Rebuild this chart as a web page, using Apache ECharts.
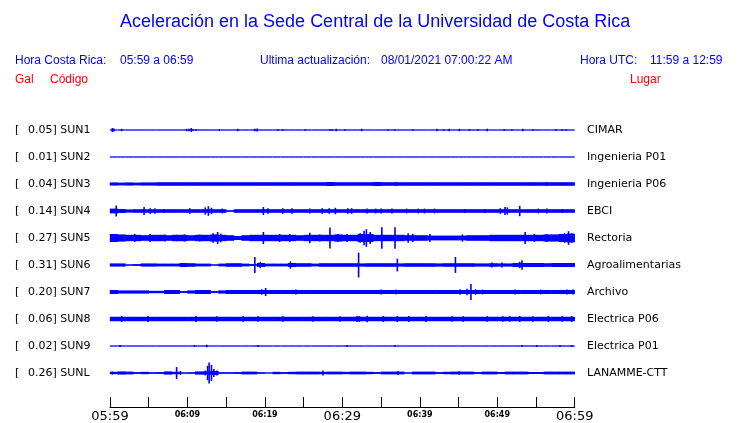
<!DOCTYPE html>
<html><head><meta charset="utf-8">
<script src="https://cdn.jsdelivr.net/npm/echarts/dist/echarts.min.js"></script>
<style>html,body{margin:0;padding:0;background:#fff}#c{width:740px;height:423px}</style>
</head><body><div id="c"></div>
<script>
// ---------------- DATA ----------------
const titleText = 'Aceleración en la Sede Central de la Universidad de Costa Rica';
const codes  = ['SUN1','SUN2','SUN3','SUN4','SUN5','SUN6','SUN7','SUN8','SUN9','SUNL'];
const places = ['CIMAR','Ingenieria P01','Ingenieria P06','EBCI','Rectoria','Agroalimentarias','Archivo','Electrica P06','Electrica P01','LANAMME-CTT'];
const peaks  = [0.05, 0.01, 0.04, 0.14, 0.27, 0.31, 0.20, 0.06, 0.02, 0.26];
// x axis: minutes after 05:59, one tick every 5 minutes
const tickLabels = ['05:59','','06:09','','06:19','','06:29','','06:39','','06:49','','06:59'];
const bigTicks = ['05:59','06:29','06:59'];

// envelope (Gal) of background noise, one value per minute (60 minutes)
const env_SUN1 = [0,0,0,0,0,0,0,0,0,0, 0,0,0,0,0,0,0,0,0,0, 0,0,0,0,0,0,0,0,0,0, 0,0,0,0,0,0,0,0,0,0, 0,0,0,0,0,0,0,0,0,0, 0,0,0,0,0,0,0,0,0,0];
const env_SUN2 = [0,0,0,0,0,0,0,0,0,0, 0,0,0,0,0,0,0,0,0,0, 0,0,0,0,0,0,0,0,0,0, 0,0,0,0,0,0,0,0,0,0, 0,0,0,0,0,0,0,0,0,0, 0,0,0,0,0,0,0,0,0,0];
const env_SUN3 = [.04,.035,.04,.035,.04,.04,.045,.045,.045,.045, .045,.045,.045,.045,.045,.045,.045,.045,.045,.045, .045,.045,.045,.045,.045,.045,.045,.045,.05,.045, .045,.045,.045,.045,.05,.045,.045,.045,.045,.045, .045,.045,.045,.045,.045,.045,.045,.045,.045,.045, .045,.045,.045,.045,.045,.045,.045,.045,.045,.045];
const env_SUN4 = [.06,.05,.04,.045,.045,.045,.045,.045,.045,.045, .045,.045,.045,.045,.045,.015,.045,.045,.045,.045, .045,.045,.045,.045,.045,.045,.045,.045,.045,.045, .045,.045,.045,.045,.045,.045,.045,.045,.045,.045, .045,.045,.045,.045,.045,.045,.045,.045,.045,.045, .045,.045,.045,.045,.045,.045,.045,.045,.045,.045];
const env_SUN5 = [.1,.09,.08,.08,.07,.08,.08,.07,.08,.08, .07,.08,.08,.09,.08,.07,.05,.07,.08,.08, .08,.08,.08,.08,.07,.08,.08,.08,.08,.09, .08,.08,.1,.1,.08,.08,.08,.08,.07,.07, .07,.06,.06,.06,.06,.06,.07,.07,.07,.08, .08,.08,.08,.08,.08,.08,.09,.09,.1,.11];
const env_SUN6 = [.04,.04,.01,.02,.04,.04,.035,.035,.035,.05, .045,.035,.035,.01,.035,.045,.045,.035,.02,.05, .035,.035,.035,.05,.045,.045,.035,.045,.045,.045, .045,.045,.04,.045,.045,.045,.045,.04,.045,.045, .045,.045,.04,.045,.045,.045,.045,.04,.04,.045, .04,.04,.05,.05,.05,.05,.045,.05,.05,.05];
const env_SUN7 = [.05,.04,.04,.04,.04,.03,.03,.05,.05,.02, .04,.05,.05,.02,.04,.05,.05,.05,.05,.05, .05,.05,.05,.05,.05,.05,.05,.05,.05,.05, .05,.05,.05,.05,.05,.05,.05,.05,.05,.05, .05,.05,.05,.05,.05,.05,.05,.05,.05,.05, .05,.05,.05,.05,.05,.05,.05,.05,.05,.05];
const env_SUN8 = [.056,.056,.056,.056,.056,.056,.056,.056,.056,.056, .056,.056,.056,.056,.056,.056,.056,.056,.056,.056, .056,.056,.056,.056,.056,.056,.056,.056,.056,.056, .056,.056,.056,.056,.056,.056,.056,.056,.056,.056, .056,.056,.056,.056,.056,.056,.056,.056,.056,.056, .056,.056,.056,.056,.056,.056,.056,.056,.056,.056];
const env_SUN9 = [0,0,0,0,0,0,0,0,0,0, 0,0,0,0,0,0,0,0,0,0, 0,0,0,0,0,0,0,0,0,0, 0,0,0,0,0,0,0,0,0,0, 0,0,0,0,0,0,0,0,0,0, 0,0,0,0,0,0,0,0,0,0];
const env_SUNL = [.03,.04,.035,.02,.03,.015,.02,.04,.03,.01, .015,.04,.04,.05,.015,.015,.02,.035,.035,.015, .005,.03,.02,.03,.035,.035,.035,.03,.035,.035, .03,.035,.035,.03,.02,.035,.035,.035,.01,.035, .035,.035,.02,.03,.035,.035,.035,.02,.035,.035, .025,.035,.035,.035,.025,.025,.035,.035,.035,.035];

// spikes: [minute, peak amplitude in Gal]
const spk_SUN1 = [[0.3,.05],[0.5,.04],[1.5,.03],[9.9,.03],[10.2,.03],[10.5,.05],[10.7,.02],[11.1,.02],[14.1,.02],[16.5,.03],[18.7,.03],[19.0,.04],[21.7,.02],[22.3,.02],[25.2,.02],[28.4,.02],[28.7,.02],[29.2,.03],[30.3,.02],[32.5,.03],[35.9,.02],[36.8,.02],[39.1,.02],[42.2,.03],[43.1,.02],[43.8,.03],[45.1,.03],[46.4,.02],[47.5,.02],[48.7,.03],[50.9,.02],[51.9,.02],[53.3,.03],[54.6,.02],[57.6,.02],[58.4,.02],[58.9,.02]];
const spk_SUN2 = [];
const spk_SUN3 = [[28.4,.05],[34.1,.05],[36.9,.05],[56.4,.05]];
const spk_SUN4 = [[0.8,.14],[4.4,.10],[5.2,.07],[5.8,.07],[7.0,.05],[10.3,.07],[12.3,.09],[12.7,.12],[13.1,.08],[14.5,.06],[19.8,.10],[20.4,.07],[22.3,.07],[23.5,.07],[25.8,.06],[27.4,.07],[28.3,.07],[29.1,.08],[30.7,.07],[31.2,.07],[33.2,.06],[34.3,.06],[35.0,.06],[36.4,.06],[38.3,.06],[39.8,.06],[40.6,.06],[41.9,.06],[45.8,.05],[48.4,.05],[50.4,.07],[51.0,.10],[51.3,.09],[52.9,.13],[55.3,.06],[56.4,.06],[58.4,.05]];
const spk_SUN5 = [[3.2,.1],[5.2,.1],[7.1,.09],[8.6,.08],[9.6,.09],[11.6,.09],[13.3,.12],[13.9,.15],[14.3,.11],[19.8,.15],[21.9,.1],[23.2,.1],[25.8,.13],[27.1,.09],[28.4,.26],[29.4,.1],[30.6,.1],[32.3,.12],[32.8,.18],[33.1,.22],[33.6,.15],[35.1,.27],[36.8,.27],[38.5,.12],[39.1,.1],[41.3,.1],[45.5,.09],[53.6,.15],[54.8,.1],[56.4,.1],[58.7,.12],[59.2,.17],[59.6,.12]];
const spk_SUN6 = [[18.7,.2],[19.4,.08],[23.3,.09],[32.1,.31],[37.1,.16],[44.6,.2],[49.3,.06],[50.6,.06],[52.9,.08],[53.2,.12]];
const spk_SUN7 = [[19.6,.07],[20.1,.1],[24.0,.06],[35.0,.06],[36.9,.06],[45.2,.07],[46.1,.08],[46.6,.2],[47.2,.07],[48.1,.06],[52.3,.06],[55.6,.06],[59.0,.06],[59.8,.06]];
const spk_SUN8 = [[1.5,.075],[4.9,.075],[11.1,.075],[13.8,.07],[17.2,.07],[19.1,.07],[22.3,.07],[26.2,.07],[29.7,.07],[31.9,.075],[32.2,.075],[33.2,.08],[35.3,.075],[37.1,.075],[38.6,.075],[40.8,.075],[44.2,.07],[45.6,.07],[48.7,.07],[50.7,.07],[51.6,.07],[52.9,.075],[54.6,.07],[56.6,.075],[58.4,.07],[59.6,.075]];
const spk_SUN9 = [[1.3,.025],[10.9,.025],[12.5,.03],[19.1,.025],[30.6,.025],[36.8,.025],[53.2,.025],[55.1,.025],[58.1,.025],[59.6,.025]];
const spk_SUNL = [[0.3,.04],[8.6,.15],[9.1,.05],[12.3,.06],[12.6,.18],[12.8,.26],[13.1,.2],[13.4,.1],[13.8,.06],[27.5,.06],[37.2,.05],[45.1,.04]];

const envs   = [env_SUN1,env_SUN2,env_SUN3,env_SUN4,env_SUN5,env_SUN6,env_SUN7,env_SUN8,env_SUN9,env_SUNL];
const spikes = [spk_SUN1,spk_SUN2,spk_SUN3,spk_SUN4,spk_SUN5,spk_SUN6,spk_SUN7,spk_SUN8,spk_SUN9,spk_SUNL];

// ---------------- LAYOUT ----------------
const BLUE = '#0000ff';
const PLOT_L = 110, PLOT_R = 165.3;
const ROW0 = 130, ROW_STEP = 27, HALF = 15, YR = 0.375;

const grids = [], xAxes = [], yAxes = [], series = [];
codes.forEach((c, i) => {
  const base = ROW0 + ROW_STEP * i;
  grids.push({left: PLOT_L, right: PLOT_R, top: base - HALF, height: HALF * 2});
  xAxes.push({type: 'value', gridIndex: i, min: 0, max: 60, show: false});
  yAxes.push({type: 'value', gridIndex: i, min: -YR, max: YR, show: false});
  series.push({
    type: 'custom', xAxisIndex: i, yAxisIndex: i, clip: false, silent: true,
    data: envs[i].map((a, m) => [m, a]),
    encode: {x: 0, y: 1},
    renderItem: (params, api) => {
      const m = api.value(0), a = api.value(1);
      const p0 = api.coord([m, 0]), p1 = api.coord([m + 1, 0]);
      const ch = [{type: 'line', shape: {x1: p0[0], y1: p0[1], x2: p1[0], y2: p1[1]}, style: {stroke: BLUE, lineWidth: 1.3}}];
      if (a > 0) {
        const t = api.coord([m, a]), b = api.coord([m, -a]);
        ch.push({type: 'rect', shape: {x: p0[0] - 0.2, y: t[1], width: p1[0] - p0[0] + 0.4, height: b[1] - t[1]}, style: {fill: BLUE}});
      }
      return {type: 'group', children: ch};
    }
  });
  series.push({
    type: 'custom', xAxisIndex: i, yAxisIndex: i, clip: false, silent: true,
    data: spikes[i],
    encode: {x: 0, y: 1},
    renderItem: (params, api) => {
      const tm = api.value(0), a = api.value(1);
      const t = api.coord([tm, a]), b = api.coord([tm, -a]);
      return {type: 'rect', shape: {x: t[0] - 0.8, y: t[1], width: 1.6, height: b[1] - t[1]}, style: {fill: BLUE}};
    }
  });
});

// bottom time axis
const AX = codes.length;
grids.push({left: PLOT_L, right: PLOT_R, top: 399, height: 10});
xAxes.push({
  type: 'value', gridIndex: AX, min: 0, max: 60, interval: 5, position: 'bottom',
  axisLine: {show: true, lineStyle: {color: '#000', width: 1}},
  axisTick: {show: true, inside: true, length: 10, lineStyle: {color: '#000', width: 1}},
  splitLine: {show: false},
  axisLabel: {
    show: true, margin: 3, color: '#000',
    formatter: v => {
      const s = tickLabels[Math.round(v / 5)];
      if (!s) return '';
      return bigTicks.includes(s) ? '{b|' + s + '}' : '{s|' + s + '}';
    },
    rich: {
      b: {fontSize: 13, fontFamily: 'DejaVu Sans', color: '#000'},
      s: {fontSize: 8, fontWeight: 'bold', fontFamily: 'DejaVu Sans', color: '#000', padding: [1, 0, 0, 0]}
    }
  }
});
yAxes.push({type: 'value', gridIndex: AX, show: false});

// texts
const HFONT = '12px "Liberation Sans", Arial, sans-serif';
const RFONT = '11px "DejaVu Sans", sans-serif';
const graphics = [
  {type: 'text', x: 120, y: 22, style: {text: titleText, font: '18px "Liberation Sans", Arial, sans-serif', fill: BLUE, verticalAlign: 'middle'}},
  {type: 'text', x: 15,  y: 61, style: {text: 'Hora Costa Rica:', font: HFONT, fill: BLUE, verticalAlign: 'middle'}},
  {type: 'text', x: 120, y: 61, style: {text: '05:59 a 06:59', font: HFONT, fill: BLUE, verticalAlign: 'middle'}},
  {type: 'text', x: 260, y: 61, style: {text: 'Ultima actualización:', font: HFONT, fill: BLUE, verticalAlign: 'middle'}},
  {type: 'text', x: 381, y: 61, style: {text: '08/01/2021 07:00:22 AM', font: HFONT, fill: BLUE, verticalAlign: 'middle'}},
  {type: 'text', x: 580, y: 61, style: {text: 'Hora UTC:', font: HFONT, fill: BLUE, verticalAlign: 'middle'}},
  {type: 'text', x: 650, y: 61, style: {text: '11:59 a 12:59', font: HFONT, fill: BLUE, verticalAlign: 'middle'}},
  {type: 'text', x: 15,  y: 80, style: {text: 'Gal', font: HFONT, fill: '#ff0000', verticalAlign: 'middle'}},
  {type: 'text', x: 50,  y: 80, style: {text: 'Código', font: HFONT, fill: '#ff0000', verticalAlign: 'middle'}},
  {type: 'text', x: 630, y: 80, style: {text: 'Lugar', font: HFONT, fill: '#ff0000', verticalAlign: 'middle'}}
];
codes.forEach((c, i) => {
  const y = ROW0 + ROW_STEP * i;
  graphics.push({type: 'text', x: 15, y, style: {text: '[', font: RFONT, fill: '#000', verticalAlign: 'middle'}});
  graphics.push({type: 'text', x: 28, y, style: {text: peaks[i].toFixed(2) + '] ' + c, font: RFONT, fill: '#000', verticalAlign: 'middle'}});
  graphics.push({type: 'text', x: 587, y, style: {text: places[i], font: RFONT, fill: '#000', verticalAlign: 'middle'}});
});

const chart = echarts.init(document.getElementById('c'), null, {renderer: 'canvas'});
chart.setOption({
  animation: false,
  backgroundColor: '#fff',
  grid: grids, xAxis: xAxes, yAxis: yAxes, series,
  graphic: graphics
});
</script></body></html>
